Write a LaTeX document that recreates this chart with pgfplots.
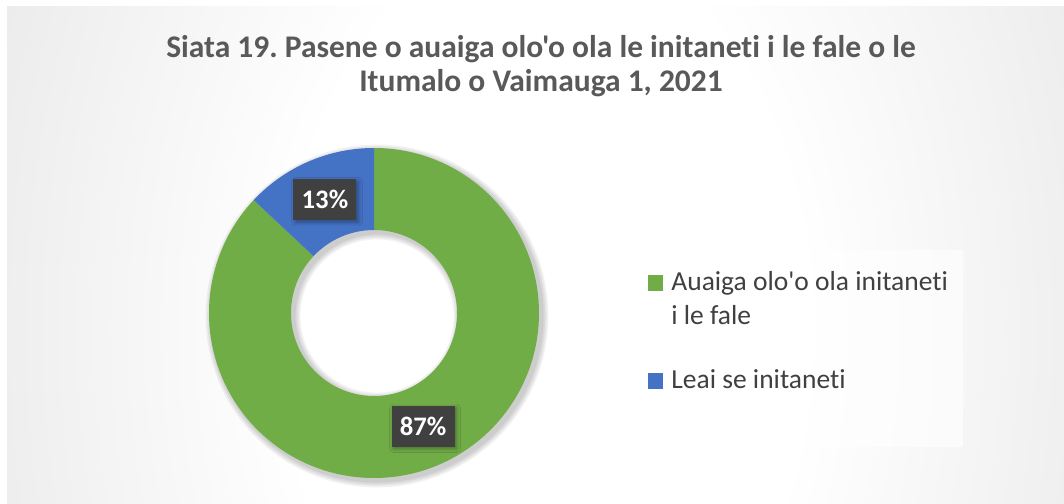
\documentclass[border=0pt]{standalone}
\usepackage{fontspec}
\setmainfont{Carlito}[Ligatures={TeXOff,NoCommon}]
\usepackage{pgfplots}
\usepackage{pgfplotstable}
\pgfplotsset{compat=1.18}
\usetikzlibrary{shadows.blur}
\frenchspacing

\definecolor{sliceGreen}{HTML}{70AD47}
\definecolor{sliceBlue}{HTML}{4472C4}
\definecolor{titleGray}{HTML}{595959}
\definecolor{legendGray}{HTML}{404040}
\definecolor{labelBox}{HTML}{404040}

\pgfdeclareradialshading{chartbg}{\pgfpoint{0bp}{0bp}}{%
  color(0bp)=(white); color(12bp)=(white); color(32bp)=(black!10);
  color(50bp)=(black!20); color(72bp)=(black!28)}

% share of households
\pgfplotstableread[col sep=comma]{
group,pct
ola,87
leai,13
}\donutdata
\pgfplotstablegetelem{0}{pct}\of\donutdata \let\pctA\pgfplotsretval
\pgfplotstablegetelem{1}{pct}\of\donutdata \let\pctB\pgfplotsretval

% slices run clockwise from the top
\pgfmathsetmacro\angA{90}
\pgfmathsetmacro\angB{\angA-3.6*\pctA}
\pgfmathsetmacro\angC{\angB-3.6*\pctB}
\pgfmathsetmacro\midA{(\angA+\angB)/2}
\pgfmathsetmacro\midB{(\angB+\angC)/2}

\newcommand\ringslice[3]{%
  \fill[#1] (#2:82.5bp) arc[start angle=#2,end angle=#3,radius=82.5bp]
    -- (#3:41.5bp) arc[start angle=#3,end angle=#2,radius=41.5bp] -- cycle;}
\newcommand\ringshadow[1]{%
  \fill[black,fill opacity=0.05,even odd rule]
    (1.5bp,-1.5bp) circle[radius=82.5bp+#1] (1.5bp,-1.5bp) circle[radius=41.5bp-#1];}

\tikzset{pctlabel/.style={fill=labelBox,text=white,inner sep=0pt,
  minimum width=31.5bp,minimum height=20.5bp,
  font=\bfseries\fontsize{13.4}{15}\selectfont,
  blur shadow={shadow xshift=1bp,shadow yshift=-1bp,shadow blur steps=4,shadow opacity=35}}}

\begin{document}
\begin{tikzpicture}
\path[use as bounding box] (0,0) rectangle (532bp,252bp);
\begin{scope}
  \clip (0,0) rectangle (532bp,252bp);
  \fill[white] (0,0) rectangle (532bp,252bp);
  \clip (3.5bp,0) rectangle (532bp,248.5bp);
  \shade[shading=chartbg] (3.5bp,-316.5bp) rectangle (543.5bp,490.5bp);
\end{scope}
\begin{axis}[
  at={(0,0)},anchor=south west,
  scale only axis,width=532bp,height=252bp,
  xmin=0,xmax=1064,ymin=0,ymax=504,
  hide axis,clip=false,
]
\begin{scope}[shift={(axis cs:374,191)}]
  \ringshadow{0.8bp}
  \ringshadow{1.6bp}
  \ringshadow{2.4bp}
  \ringshadow{3.2bp}
  \ringslice{sliceGreen}{\angA}{\angB}
  \ringslice{sliceBlue}{\angB}{\angC}
  \node[pctlabel] at (\midA:61.75bp) {\pctA\%};
  \node[pctlabel] at (\midB:61.75bp) {\pctB\%};
\end{scope}

\node[anchor=base,text=titleGray,font=\bfseries\fontsize{15.8}{19}\selectfont]
  at (axis cs:541,446) {Siata 19. Pasene o auaiga olo'o ola le initaneti i le fale o le};
\node[anchor=base,text=titleGray,font=\bfseries\fontsize{15.8}{19}\selectfont]
  at (axis cs:541,412) {Itumalo o Vaimauga 1, 2021};

% legend
\fill[white,fill opacity=0.6] (axis cs:635,57) rectangle (axis cs:963,254);
\fill[sliceGreen] (axis cs:648,213) rectangle (axis cs:663,229);
\fill[sliceBlue] (axis cs:648,115) rectangle (axis cs:663,131);
\begin{scope}[every node/.style={anchor=base west,inner sep=0pt,text=legendGray,font=\fontsize{13.8}{17}\selectfont}]
  \node at (axis cs:671,213) {Auaiga olo'o ola initaneti};
  \node at (axis cs:671,179) {i le fale};
  \node at (axis cs:671,115) {Leai se initaneti};
\end{scope}
\end{axis}
\end{tikzpicture}
\end{document}
